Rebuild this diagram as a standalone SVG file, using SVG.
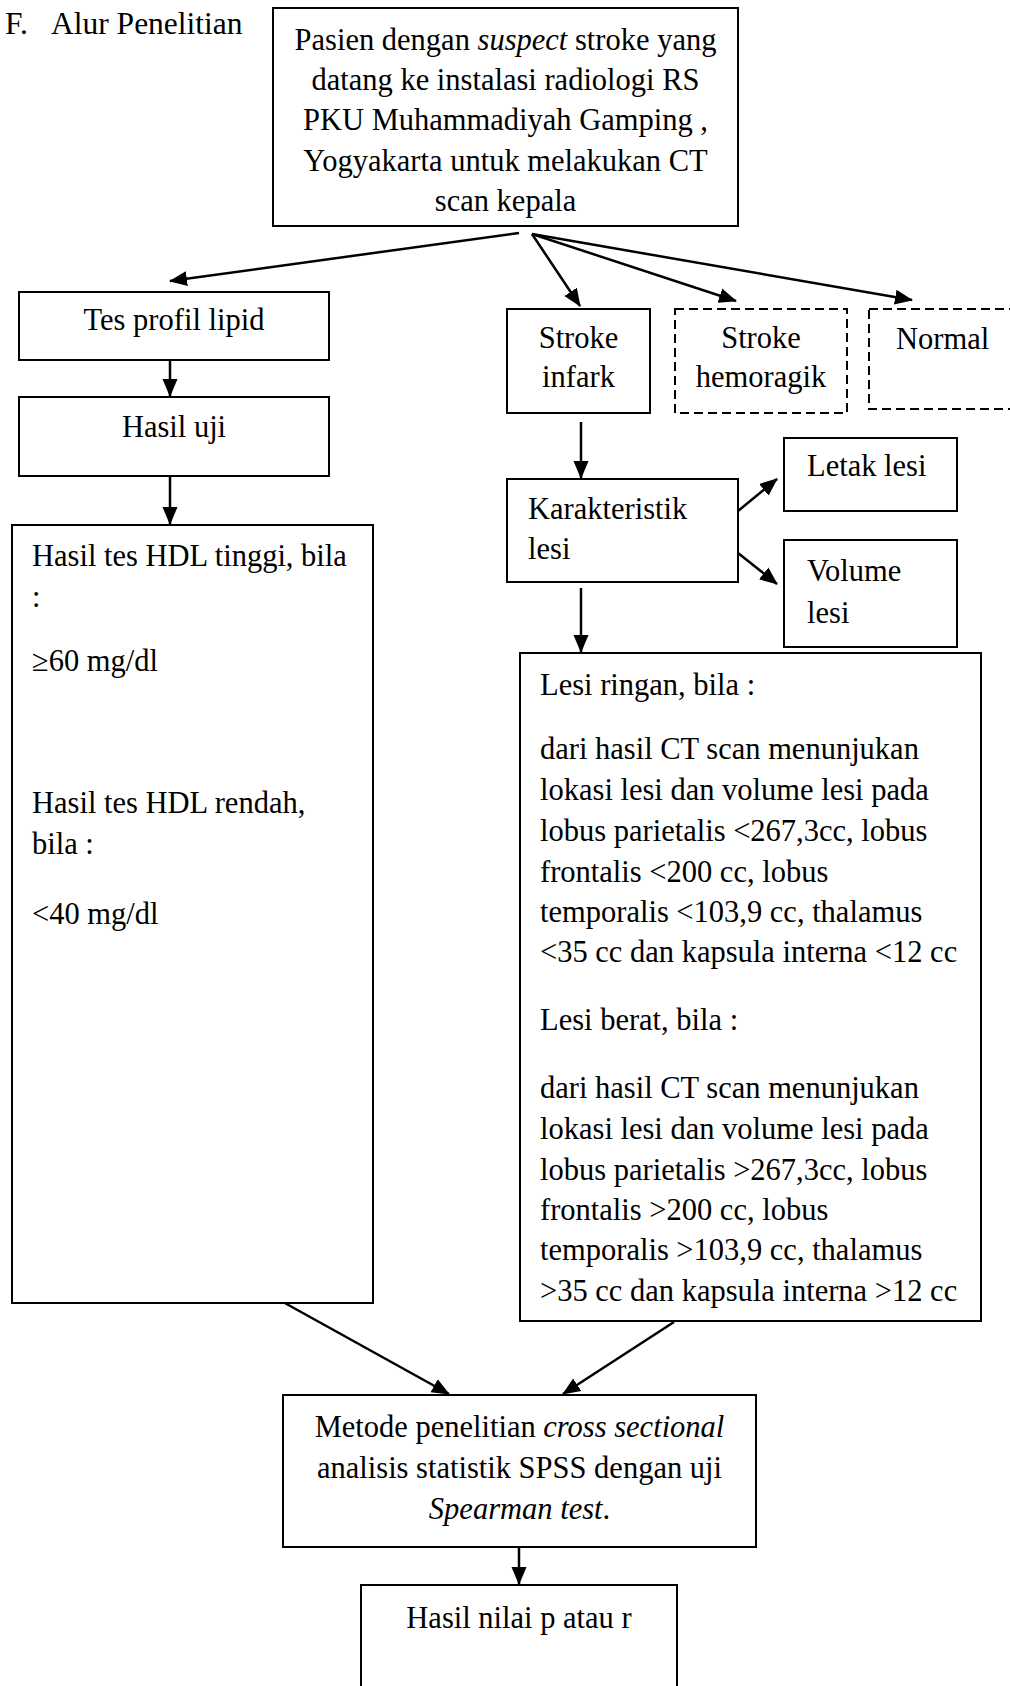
<svg xmlns="http://www.w3.org/2000/svg" width="1010" height="1686" viewBox="0 0 1010 1686">
<style>
text{font-family:"Liberation Serif","Times New Roman",serif;font-size:30.5px;fill:#000}
.c{text-anchor:middle}
.box{fill:#fff;stroke:#000;stroke-width:2}
.dash{fill:#fff;stroke:#000;stroke-width:2;stroke-dasharray:9 5}
.ln{stroke:#000;stroke-width:2.5;fill:none;marker-end:url(#ah)}
</style>
<defs>
<marker id="ah" markerUnits="userSpaceOnUse" markerWidth="19" markerHeight="16" refX="17" refY="8" orient="auto">
<path d="M0,0.5 L18,8 L0,15.5 z" fill="#000"/>
</marker>
</defs>
<rect width="1010" height="1686" fill="#fff"/>
<g id="title"><text x="5" y="34" style="font-size:31.5px">F.</text><text x="51" y="34" style="font-size:31.5px">Alur Penelitian</text></g>
<g id="connectors">
<line class="ln" x1="519" y1="233" x2="170" y2="281"/>
<line class="ln" x1="532" y1="234" x2="580" y2="306"/>
<line class="ln" x1="532" y1="234" x2="736" y2="301"/>
<line class="ln" x1="532" y1="234" x2="912" y2="300"/>
<line class="ln" x1="170" y1="360" x2="170" y2="396"/>
<line class="ln" x1="170" y1="476" x2="170" y2="524"/>
<line class="ln" x1="581" y1="422" x2="581" y2="478"/>
<line class="ln" x1="738" y1="511" x2="777" y2="479"/>
<line class="ln" x1="738" y1="553" x2="777" y2="584"/>
<line class="ln" x1="581" y1="588" x2="581" y2="652"/>
<line class="ln" x1="283" y1="1302" x2="449" y2="1394"/>
<line class="ln" x1="674" y1="1322" x2="563" y2="1394"/>
<line class="ln" x1="519" y1="1548" x2="519" y2="1584"/>
</g>
<g id="n-pasien">
<rect class="box" x="273" y="8" width="465" height="218"/>
<text class="c" x="505.5" y="50">Pasien dengan <tspan font-style="italic">suspect</tspan> stroke yang</text>
<text class="c" x="505.5" y="90">datang ke instalasi radiologi RS</text>
<text class="c" x="505.5" y="130">PKU Muhammadiyah Gamping ,</text>
<text class="c" x="505.5" y="171">Yogyakarta untuk melakukan CT</text>
<text class="c" x="505.5" y="211">scan kepala</text>
</g>
<g id="n-tes"><rect class="box" x="19" y="292" width="310" height="68"/><text class="c" x="174" y="330">Tes profil lipid</text></g>
<g id="n-hasiluji"><rect class="box" x="19" y="397" width="310" height="79"/><text class="c" x="174" y="437">Hasil uji</text></g>
<g id="n-hdl">
<rect class="box" x="12" y="525" width="361" height="778"/>
<text x="32" y="566">Hasil tes HDL tinggi, bila</text>
<text x="32" y="607">:</text>
<text x="32" y="671">≥60 mg/dl</text>
<text x="32" y="813">Hasil tes HDL rendah,</text>
<text x="32" y="854">bila :</text>
<text x="32" y="924">&lt;40 mg/dl</text>
</g>
<g id="n-infark"><rect class="box" x="507" y="309" width="143" height="104"/><text class="c" x="578.5" y="348">Stroke</text><text class="c" x="578.5" y="387">infark</text></g>
<g id="n-hemoragik"><rect class="dash" x="675" y="309" width="172" height="104"/><text class="c" x="761" y="348">Stroke</text><text class="c" x="761" y="387">hemoragik</text></g>
<g id="n-normal"><rect class="dash" x="869" y="309" width="150" height="100"/><text x="896" y="349">Normal</text></g>
<g id="n-karakteristik"><rect class="box" x="507" y="479" width="231" height="103"/><text x="528" y="519">Karakteristik</text><text x="528" y="559">lesi</text></g>
<g id="n-letak"><rect class="box" x="784" y="438" width="173" height="73"/><text x="807" y="476">Letak lesi</text></g>
<g id="n-volume"><rect class="box" x="784" y="540" width="173" height="107"/><text x="807" y="581">Volume</text><text x="807" y="623">lesi</text></g>
<g id="n-lesi">
<rect class="box" x="520" y="653" width="461" height="668"/>
<text x="540" y="695">Lesi ringan, bila :</text>
<text x="540" y="759">dari hasil CT scan menunjukan</text>
<text x="540" y="800">lokasi lesi dan volume lesi pada</text>
<text x="540" y="841">lobus parietalis &lt;267,3cc, lobus</text>
<text x="540" y="882">frontalis &lt;200 cc, lobus</text>
<text x="540" y="922">temporalis &lt;103,9 cc, thalamus</text>
<text x="540" y="962">&lt;35 cc dan kapsula interna &lt;12 cc</text>
<text x="540" y="1030">Lesi berat, bila :</text>
<text x="540" y="1098">dari hasil CT scan menunjukan</text>
<text x="540" y="1139">lokasi lesi dan volume lesi pada</text>
<text x="540" y="1180">lobus parietalis &gt;267,3cc, lobus</text>
<text x="540" y="1220">frontalis &gt;200 cc, lobus</text>
<text x="540" y="1260">temporalis &gt;103,9 cc, thalamus</text>
<text x="540" y="1301">&gt;35 cc dan kapsula interna &gt;12 cc</text>
</g>
<g id="n-metode">
<rect class="box" x="283" y="1395" width="473" height="152"/>
<text class="c" x="519.5" y="1437">Metode penelitian <tspan font-style="italic">cross sectional</tspan></text>
<text class="c" x="519.5" y="1478">analisis statistik SPSS dengan uji</text>
<text class="c" x="519.5" y="1519"><tspan font-style="italic">Spearman test</tspan>.</text>
</g>
<g id="n-hasilnilai"><rect class="box" x="361" y="1585" width="316" height="130"/><text class="c" x="519" y="1628">Hasil nilai p atau r</text></g>
</svg>
